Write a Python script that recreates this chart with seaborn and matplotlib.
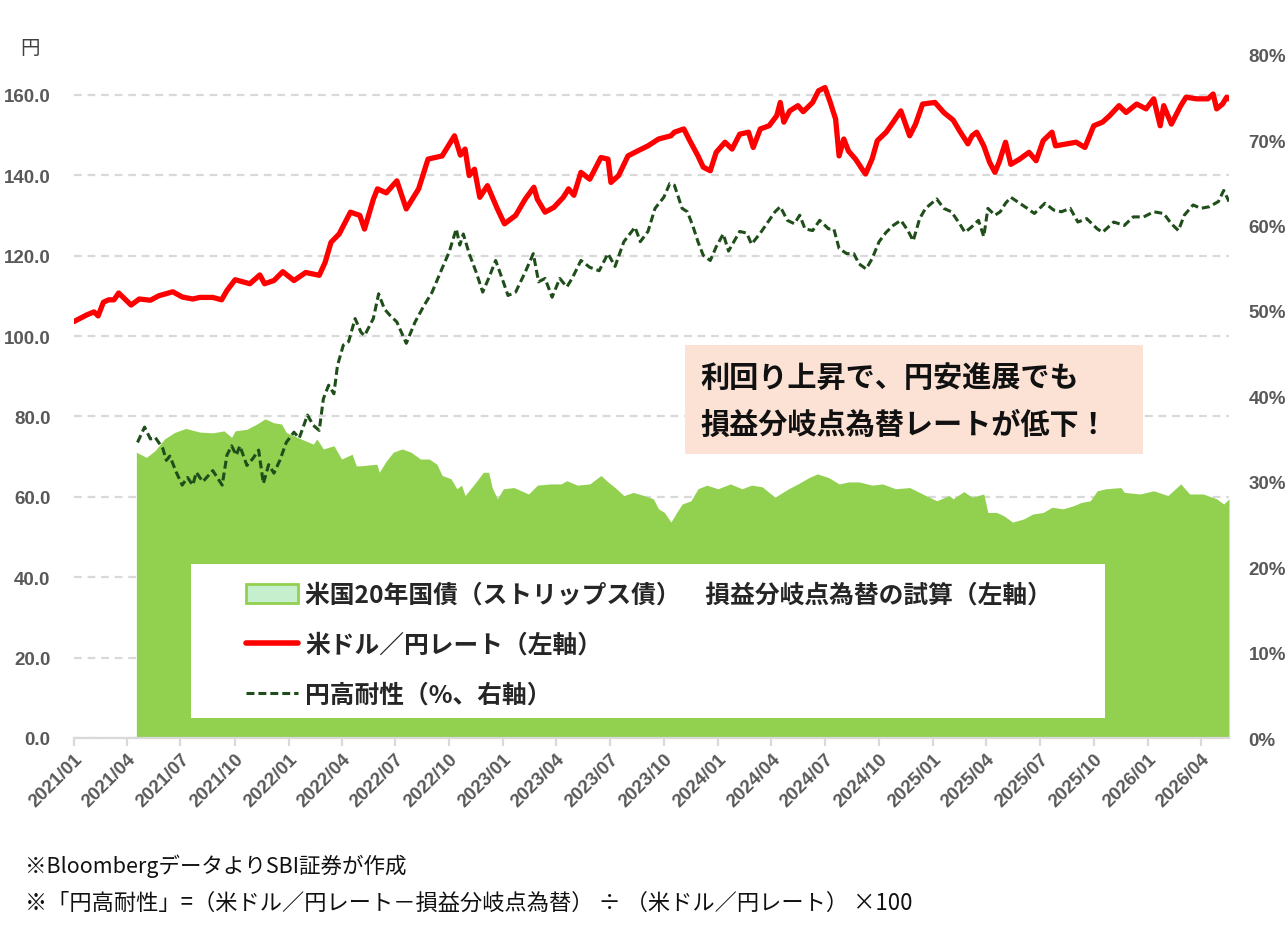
import pandas as pd
import numpy as np
import matplotlib
matplotlib.use("Agg")
import matplotlib.pyplot as plt
import matplotlib.dates as mdates
from matplotlib.patches import Rectangle, Patch
from matplotlib.lines import Line2D
import seaborn as sns

# ---------------- data ----------------
usdjpy_dates = [
    "2021-01-01", "2021-01-22", "2021-02-04", "2021-02-11", "2021-02-20", "2021-03-01", "2021-03-10",
    "2021-03-18", "2021-04-08", "2021-04-22", "2021-05-11", "2021-05-25", "2021-06-18", "2021-07-04",
    "2021-07-22", "2021-08-03", "2021-08-25", "2021-09-09", "2021-09-18", "2021-10-02", "2021-10-27",
    "2021-11-13", "2021-11-21", "2021-12-07", "2021-12-22", "2022-01-10", "2022-01-30", "2022-02-22",
    "2022-03-04", "2022-03-14", "2022-03-28", "2022-04-16", "2022-05-02", "2022-05-10", "2022-05-25",
    "2022-06-01", "2022-06-16", "2022-07-04", "2022-07-20", "2022-08-10", "2022-08-26", "2022-09-19",
    "2022-10-10", "2022-10-20", "2022-10-28", "2022-11-04", "2022-11-13", "2022-11-22", "2022-12-05",
    "2022-12-22", "2023-01-03", "2023-01-22", "2023-02-07", "2023-02-22", "2023-02-28", "2023-03-13",
    "2023-03-28", "2023-04-13", "2023-04-22", "2023-05-01", "2023-05-13", "2023-05-28", "2023-06-16",
    "2023-06-28", "2023-07-03", "2023-07-16", "2023-08-01", "2023-08-17", "2023-09-04", "2023-09-22",
    "2023-10-13", "2023-10-19", "2023-11-04", "2023-11-14", "2023-11-28", "2023-12-07", "2023-12-19",
    "2023-12-29", "2024-01-13", "2024-01-25", "2024-02-07", "2024-02-22", "2024-03-01", "2024-03-13",
    "2024-03-28", "2024-04-10", "2024-04-16", "2024-04-22", "2024-05-02", "2024-05-16", "2024-05-25",
    "2024-06-10", "2024-06-20", "2024-07-01", "2024-07-10", "2024-07-19", "2024-07-25", "2024-08-02",
    "2024-08-10", "2024-08-22", "2024-09-04", "2024-09-08", "2024-09-19", "2024-09-28", "2024-10-13",
    "2024-10-25", "2024-11-07", "2024-11-22", "2024-12-02", "2024-12-14", "2025-01-04", "2025-01-19",
    "2025-02-04", "2025-02-15", "2025-03-01", "2025-03-08", "2025-03-16", "2025-03-28", "2025-04-07",
    "2025-04-16", "2025-04-23", "2025-05-04", "2025-05-13", "2025-05-28", "2025-06-13", "2025-06-25",
    "2025-07-07", "2025-07-22", "2025-07-28", "2025-08-16", "2025-09-01", "2025-09-16", "2025-10-01",
    "2025-10-16", "2025-10-28", "2025-11-13", "2025-11-25", "2025-12-13", "2025-12-29", "2026-01-11",
    "2026-01-22", "2026-01-28", "2026-02-10", "2026-02-26", "2026-03-07", "2026-03-25", "2026-04-13",
    "2026-04-22", "2026-04-28", "2026-05-08", "2026-05-15", "2026-05-19",
]
usdjpy = [
    103.6, 105.2, 106.0, 105.0, 108.4, 109.0, 109.0,
    110.7, 107.7, 109.2, 108.9, 110.0, 111.0, 109.7,
    109.2, 109.6, 109.6, 109.0, 111.3, 114.0, 113.0,
    115.2, 113.0, 113.8, 116.0, 113.8, 115.8, 115.1,
    118.3, 123.3, 125.4, 130.8, 130.0, 126.6, 134.0,
    136.6, 135.6, 138.6, 131.6, 136.6, 144.0, 144.8,
    149.8, 145.0, 146.5, 139.9, 141.5, 134.5, 137.4,
    131.6, 127.9, 130.0, 134.0, 137.0, 134.0, 130.8,
    132.0, 134.5, 136.6, 135.0, 140.7, 139.0, 144.4,
    144.0, 138.2, 139.9, 144.8, 146.0, 147.3, 149.0,
    149.8, 150.7, 151.5, 148.6, 144.8, 142.0, 141.1,
    145.7, 148.2, 146.5, 150.2, 150.7, 146.9, 151.5,
    152.3, 154.8, 158.1, 153.2, 156.0, 157.3, 155.8,
    158.1, 161.0, 161.8, 158.1, 154.0, 144.8, 149.0,
    146.0, 144.0, 141.1, 140.3, 144.0, 148.6, 150.7,
    153.2, 156.0, 149.8, 152.7, 157.7, 158.1, 155.6,
    153.7, 151.0, 147.8, 149.8, 150.7, 147.3, 143.2,
    140.7, 143.2, 148.2, 142.7, 144.0, 145.7, 143.6,
    148.6, 150.7, 147.3, 147.8, 148.2, 146.9, 152.3,
    153.2, 154.8, 157.3, 155.6, 157.7, 156.5, 159.0,
    152.3, 157.3, 152.7, 157.3, 159.4, 159.0, 159.0,
    160.2, 156.5, 157.7, 159.4, 159.0,
]

breakeven_dates = [
    "2021-04-17", "2021-05-04", "2021-05-19", "2021-06-04", "2021-06-21", "2021-07-10", "2021-08-03",
    "2021-08-25", "2021-09-13", "2021-09-26", "2021-10-02", "2021-10-22", "2021-11-08", "2021-11-22",
    "2021-12-07", "2021-12-20", "2021-12-28", "2022-01-22", "2022-02-12", "2022-02-18", "2022-03-01",
    "2022-03-19", "2022-04-01", "2022-04-19", "2022-04-26", "2022-05-02", "2022-05-31", "2022-06-04",
    "2022-06-16", "2022-06-28", "2022-07-13", "2022-07-28", "2022-08-13", "2022-08-28", "2022-09-10",
    "2022-09-19", "2022-10-04", "2022-10-14", "2022-10-22", "2022-10-28", "2022-11-13", "2022-11-28",
    "2022-12-07", "2022-12-13", "2022-12-22", "2023-01-01", "2023-01-19", "2023-02-13", "2023-02-28",
    "2023-03-22", "2023-04-09", "2023-04-19", "2023-05-07", "2023-05-28", "2023-06-16", "2023-06-28",
    "2023-07-10", "2023-07-25", "2023-08-10", "2023-08-28", "2023-09-13", "2023-09-22", "2023-10-02",
    "2023-10-13", "2023-10-22", "2023-11-01", "2023-11-16", "2023-11-28", "2023-12-13", "2024-01-01",
    "2024-01-22", "2024-02-11", "2024-02-27", "2024-03-16", "2024-04-07", "2024-04-30", "2024-05-16",
    "2024-06-04", "2024-06-18", "2024-07-07", "2024-07-25", "2024-08-10", "2024-08-28", "2024-09-19",
    "2024-10-07", "2024-10-29", "2024-11-22", "2024-12-14", "2025-01-07", "2025-01-28", "2025-02-04",
    "2025-02-22", "2025-03-08", "2025-03-28", "2025-04-04", "2025-04-19", "2025-05-01", "2025-05-16",
    "2025-06-04", "2025-06-19", "2025-07-07", "2025-07-22", "2025-08-10", "2025-08-28", "2025-09-10",
    "2025-09-25", "2025-10-07", "2025-10-22", "2025-11-16", "2025-11-22", "2025-12-19", "2026-01-11",
    "2026-02-04", "2026-02-26", "2026-03-13", "2026-04-05", "2026-04-28", "2026-05-10", "2026-05-19",
]
breakeven = [
    71.1, 69.8, 71.5, 74.4, 76.0, 77.0, 76.1,
    75.9, 76.4, 74.8, 76.4, 76.8, 78.1, 79.4,
    78.4, 78.1, 76.0, 74.4, 73.1, 74.4, 71.9,
    72.7, 69.4, 70.6, 67.7, 67.7, 68.1, 66.1,
    68.9, 71.1, 71.9, 71.1, 69.4, 69.4, 68.1,
    65.3, 64.5, 62.0, 62.9, 60.3, 63.2, 66.1,
    66.1, 62.3, 59.5, 62.0, 62.3, 60.7, 62.9,
    63.2, 63.2, 64.0, 62.9, 63.2, 65.3, 63.7,
    62.3, 60.3, 61.1, 60.3, 59.5, 57.0, 56.1,
    53.7, 55.9, 58.2, 59.0, 62.0, 62.9, 62.0,
    63.2, 62.0, 62.9, 62.5, 59.9, 62.0, 63.2,
    64.8, 65.7, 64.8, 63.2, 63.7, 63.7, 62.9,
    63.2, 62.0, 62.3, 60.7, 59.0, 60.3, 59.5,
    61.3, 59.9, 60.7, 56.1, 56.1, 55.3, 53.7,
    54.5, 55.7, 56.1, 57.4, 57.0, 57.8, 58.6,
    59.0, 61.5, 62.0, 62.3, 61.1, 60.7, 61.5,
    60.3, 63.2, 60.7, 60.7, 59.5, 58.2, 59.5,
]

resilience_dates = [
    "2021-04-19", "2021-05-01", "2021-05-11", "2021-05-19", "2021-06-01", "2021-06-07", "2021-06-13",
    "2021-06-24", "2021-07-04", "2021-07-13", "2021-07-22", "2021-07-28", "2021-08-08", "2021-08-25",
    "2021-09-10", "2021-09-18", "2021-09-26", "2021-10-04", "2021-10-10", "2021-10-22", "2021-11-01",
    "2021-11-11", "2021-11-19", "2021-11-28", "2021-12-07", "2021-12-17", "2021-12-28", "2022-01-10",
    "2022-01-19", "2022-02-02", "2022-02-12", "2022-02-22", "2022-03-01", "2022-03-10", "2022-03-19",
    "2022-03-25", "2022-04-04", "2022-04-13", "2022-04-24", "2022-05-04", "2022-05-10", "2022-05-25",
    "2022-06-03", "2022-06-13", "2022-06-22", "2022-07-04", "2022-07-20", "2022-08-04", "2022-08-19",
    "2022-09-02", "2022-09-16", "2022-10-01", "2022-10-13", "2022-10-19", "2022-10-25", "2022-11-04",
    "2022-11-16", "2022-11-27", "2022-12-07", "2022-12-19", "2023-01-01", "2023-01-09", "2023-01-22",
    "2023-02-07", "2023-02-21", "2023-03-02", "2023-03-13", "2023-03-25", "2023-04-07", "2023-04-19",
    "2023-04-28", "2023-05-13", "2023-05-28", "2023-06-13", "2023-06-28", "2023-07-10", "2023-07-25",
    "2023-08-13", "2023-08-22", "2023-09-04", "2023-09-16", "2023-10-01", "2023-10-11", "2023-10-19",
    "2023-11-01", "2023-11-10", "2023-11-19", "2023-11-28", "2023-12-07", "2023-12-19", "2023-12-29",
    "2024-01-10", "2024-01-19", "2024-02-07", "2024-02-19", "2024-02-27", "2024-03-13", "2024-03-26",
    "2024-04-07", "2024-04-16", "2024-04-28", "2024-05-10", "2024-05-19", "2024-05-28", "2024-06-10",
    "2024-06-22", "2024-07-07", "2024-07-16", "2024-07-25", "2024-08-07", "2024-08-19", "2024-08-28",
    "2024-09-09", "2024-09-19", "2024-10-01", "2024-10-13", "2024-10-25", "2024-11-07", "2024-11-19",
    "2024-11-28", "2024-12-09", "2024-12-19", "2025-01-07", "2025-01-19", "2025-02-01", "2025-02-15",
    "2025-02-24", "2025-03-07", "2025-03-19", "2025-03-28", "2025-04-04", "2025-04-16", "2025-04-25",
    "2025-05-04", "2025-05-13", "2025-05-28", "2025-06-10", "2025-06-22", "2025-07-10", "2025-07-25",
    "2025-08-07", "2025-08-22", "2025-09-04", "2025-09-19", "2025-10-07", "2025-10-16", "2025-11-04",
    "2025-11-22", "2025-12-07", "2025-12-25", "2026-01-11", "2026-01-28", "2026-02-10", "2026-02-22",
    "2026-03-04", "2026-03-19", "2026-04-01", "2026-04-16", "2026-05-01", "2026-05-10", "2026-05-19",
]
resilience_pct = [
    34.6, 36.4, 35.0, 35.2, 33.9, 32.5, 33.0,
    31.1, 29.6, 30.5, 29.6, 31.1, 30.0, 31.3,
    29.6, 33.1, 34.2, 33.1, 34.2, 31.9, 32.7,
    33.7, 29.8, 32.0, 31.0, 32.5, 34.6, 35.8,
    35.1, 37.8, 36.6, 36.0, 39.7, 41.3, 40.3,
    43.6, 46.0, 46.4, 49.1, 47.5, 47.1, 49.1,
    52.0, 50.2, 49.5, 48.7, 46.2, 48.7, 50.6,
    52.2, 54.5, 56.9, 59.6, 57.7, 59.0, 56.7,
    54.5, 52.2, 53.8, 55.9, 53.4, 51.8, 52.2,
    54.5, 56.7, 53.4, 53.8, 51.6, 53.8, 52.8,
    53.8, 55.9, 55.1, 54.7, 56.7, 55.2, 58.1,
    59.8, 58.1, 59.3, 62.0, 63.3, 64.9, 64.7,
    62.0, 61.6, 60.0, 58.1, 56.5, 55.9, 57.5,
    59.0, 57.0, 59.3, 59.1, 57.8, 59.1, 60.4,
    61.6, 62.2, 60.6, 60.2, 61.2, 59.6, 59.4,
    60.6, 59.6, 59.6, 57.3, 56.7, 56.7, 55.5,
    54.9, 56.1, 58.1, 59.2, 60.0, 60.6, 59.4,
    58.2, 60.8, 62.0, 63.1, 62.0, 61.6, 60.2,
    59.2, 59.8, 60.6, 58.7, 62.0, 61.2, 61.6,
    62.6, 63.3, 62.6, 62.0, 61.4, 62.6, 61.8,
    61.6, 62.0, 60.4, 60.8, 59.6, 59.2, 60.4,
    60.0, 61.0, 61.0, 61.6, 61.4, 60.2, 59.4,
    61.2, 62.4, 62.0, 62.2, 62.8, 64.1, 62.8,
]

legend_labels = [
    "米国20年国債（ストリップス債）　損益分岐点為替の試算（左軸）",
    "米ドル／円レート（左軸）",
    "円高耐性（%、右軸）",
]
callout_lines = ["利回り上昇で、円安進展でも", "損益分岐点為替レートが低下！"]
footnotes = [
    "※BloombergデータよりSBI証券が作成",
    "※「円高耐性」=（米ドル／円レート－損益分岐点為替） ÷ （米ドル／円レート） ×100",
]
left_ticks = [0, 20, 40, 60, 80, 100, 120, 140, 160]
right_ticks = [0, 10, 20, 30, 40, 50, 60, 70, 80]

# ---------------- frames ----------------
df_rate = pd.DataFrame({"date": pd.to_datetime(usdjpy_dates), "value": usdjpy})
df_be = pd.DataFrame({"date": pd.to_datetime(breakeven_dates), "value": breakeven})
df_res = pd.DataFrame({"date": pd.to_datetime(resilience_dates), "value": resilience_pct})

# ---------------- style ----------------
sns.set_theme(style="white")
plt.rcParams["font.family"] = ["Noto Sans CJK JP", "DejaVu Sans"]

RED = "#FF0000"
GREEN_FILL = "#92D050"
DARK_GREEN = "#1F4E1A"
GRID = "#D9D9D9"
TICK_TXT = "#595959"

W, H = 1288, 953
fig = plt.figure(figsize=(W / 100, H / 100), dpi=100)
ax = fig.add_axes([74 / W, 1 - 739 / H, (1229 - 74) / W, (739 - 55.6) / H])
ax2 = ax.twinx()

# green area (left axis)
ax.fill_between(df_be["date"], 0, df_be["value"], color=GREEN_FILL, lw=0, zorder=1)

# red line (left axis)
sns.lineplot(data=df_rate, x="date", y="value", ax=ax, color=RED, lw=3.8,
             estimator=None, errorbar=None, zorder=3)

# dashed resilience line (right axis)
sns.lineplot(data=df_res, x="date", y="value", ax=ax2, color=DARK_GREEN, lw=2.2,
             linestyle=(0, (2.6, 1.3)), estimator=None, errorbar=None, zorder=3)

# axes limits
ax.set_xlim(pd.Timestamp("2021-01-01"), df_rate["date"].max())
ax.set_ylim(0, 170)
ax2.set_ylim(0, 80)

# y ticks
ax.set_yticks(left_ticks)
ax.set_yticklabels([f"{v:.1f}" for v in left_ticks])
ax2.set_yticks(right_ticks)
ax2.set_yticklabels([f"{v}%" for v in right_ticks])
for a in (ax, ax2):
    a.set_xlabel("")
    a.set_ylabel("")
    for s in a.spines.values():
        s.set_visible(False)
    a.patch.set_visible(False)

ax.spines["bottom"].set_visible(True)
ax.spines["bottom"].set_color(GRID)
ax.spines["bottom"].set_linewidth(1.6)

ax.tick_params(axis="y", length=0, pad=17, labelsize=13.5, labelcolor=TICK_TXT)
ax2.tick_params(axis="y", length=0, pad=14, labelsize=13.5, labelcolor=TICK_TXT)
for lab in ax.get_yticklabels() + ax2.get_yticklabels():
    lab.set_fontfamily("Liberation Sans")
    lab.set_fontweight("bold")

# grid
ax.yaxis.grid(True, color=GRID, lw=1.6, linestyle=(0, (3.5, 2.6)))
ax.set_axisbelow(True)

# x ticks
ax.xaxis.set_major_locator(mdates.MonthLocator(bymonth=[1, 4, 7, 10]))
ax.xaxis.set_major_formatter(mdates.DateFormatter("%Y/%m"))
ax.tick_params(axis="x", bottom=True, length=6, width=1.6, color=GRID, pad=3,
               labelsize=13.5, labelcolor=TICK_TXT)
for lab in ax.get_xticklabels():
    lab.set_rotation(45)
    lab.set_ha("right")
    lab.set_rotation_mode("anchor")
    lab.set_fontfamily("Liberation Sans")
    lab.set_fontweight("bold")

# unit label
fig.text(30 / W, 1 - 49 / H, "円", fontsize=14, color="#404040", ha="center", va="center")

# legend box
fig.add_artist(Rectangle((191 / W, 1 - 719 / H), (1105 - 191) / W, (719 - 565) / H,
                         transform=fig.transFigure, facecolor="white", edgecolor="none", zorder=5))
handles = [
    Patch(facecolor="#C6EFCE", edgecolor=GREEN_FILL, lw=2),
    Line2D([0], [0], color=RED, lw=4),
    Line2D([0], [0], color=DARK_GREEN, lw=2.2, linestyle=(0, (2.6, 1.3))),
]
leg = fig.legend(handles, legend_labels, loc="upper left",
                 bbox_to_anchor=(246 / W, 1 - 584 / H), frameon=False,
                 prop={"family": ["Noto Sans CJK JP", "DejaVu Sans"], "weight": "bold", "size": 17.8},
                 handlelength=2.1, handleheight=0.85, handletextpad=0.3, labelspacing=1.05,
                 borderpad=0, borderaxespad=0)
leg.set_zorder(6)

# callout box
fig.add_artist(Rectangle((685 / W, 1 - 455 / H), (1143 - 685) / W, (455 - 346) / H,
                         transform=fig.transFigure, facecolor="#FBE2D5", edgecolor="none", zorder=5))
fig.text(700 / W, 1 - 378 / H, callout_lines[0], fontsize=21, fontweight="bold",
         color="#111111", ha="left", va="center", zorder=6)
fig.text(700 / W, 1 - 425 / H, callout_lines[1], fontsize=21, fontweight="bold",
         color="#111111", ha="left", va="center", zorder=6)

# footnotes
fig.text(25 / W, 1 - 866 / H, footnotes[0], fontsize=15.5, color="#111111", ha="left", va="center")
fig.text(25 / W, 1 - 903 / H, footnotes[1], fontsize=16, color="#111111", ha="left", va="center")

fig.savefig("out.png", dpi=100)
